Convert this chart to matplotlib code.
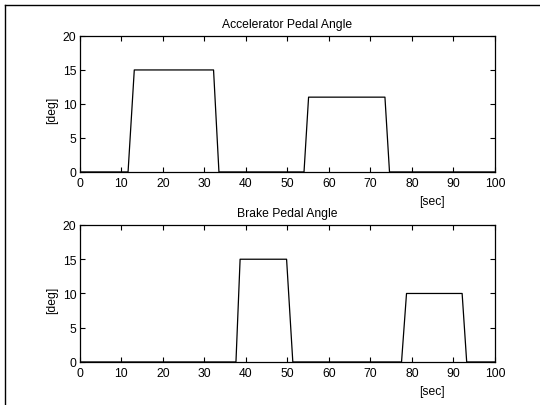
import matplotlib
matplotlib.use("Agg")
import matplotlib.pyplot as plt
from matplotlib.lines import Line2D

# pedal angle traces
accel_t = [0, 11.6, 13.1, 32.2, 33.5, 54.0, 55.1, 73.5, 74.6, 100]
accel_v = [0, 0, 15, 15, 0, 0, 11, 11, 0, 0]
brake_t = [0, 37.6, 38.6, 49.8, 51.3, 77.5, 78.7, 92.1, 93.2, 100]
brake_v = [0, 0, 15, 15, 0, 0, 10, 10, 0, 0]

titles = ["Accelerator Pedal Angle", "Brake Pedal Angle"]
xticks = list(range(0, 101, 10))
yticks = [0, 5, 10, 15, 20]

plt.rcParams['font.family'] = ['Liberation Sans', 'DejaVu Sans']
plt.rcParams['font.size'] = 8.7

fig = plt.figure(figsize=(5.4, 4.06), dpi=100)

# axes boxes in figure fractions (left, bottom, width, height)
boxes = [[0.148, 0.574, 0.7685, 0.335],
         [0.148, 0.106, 0.7685, 0.3374]]
series = [(accel_t, accel_v), (brake_t, brake_v)]

for box, (t, v), title in zip(boxes, series, titles):
    ax = fig.add_axes(box)
    ax.plot(t, v, color='k', lw=0.9)
    ax.set_xlim(0, 100)
    ax.set_ylim(0, 20)
    ax.set_xticks(xticks)
    ax.set_yticks(yticks)
    ax.tick_params(direction='in', top=True, right=True, length=3.5, width=0.8)
    ax.tick_params(axis='x', pad=3.5)
    ax.tick_params(axis='y', pad=2.5)
    for s in ax.spines.values():
        s.set_linewidth(0.9)
        s.set_color('k')
    ax.text(0.5, 1.088, title, transform=ax.transAxes, ha='center', va='center')
    ax.text(0.848, -0.21, "[sec]", transform=ax.transAxes, ha='center', va='center')
    ax.text(-0.068, 0.46, "[deg]", transform=ax.transAxes, ha='center', va='center',
            rotation=90)

# outer frame (top and left edges only)
fig.add_artist(Line2D([0.009, 1.0], [0.985, 0.985], transform=fig.transFigure,
                      color='k', lw=1))
fig.add_artist(Line2D([0.009, 0.009], [0.0, 0.985], transform=fig.transFigure,
                      color='k', lw=1))

fig.savefig("out.png", dpi=100)
